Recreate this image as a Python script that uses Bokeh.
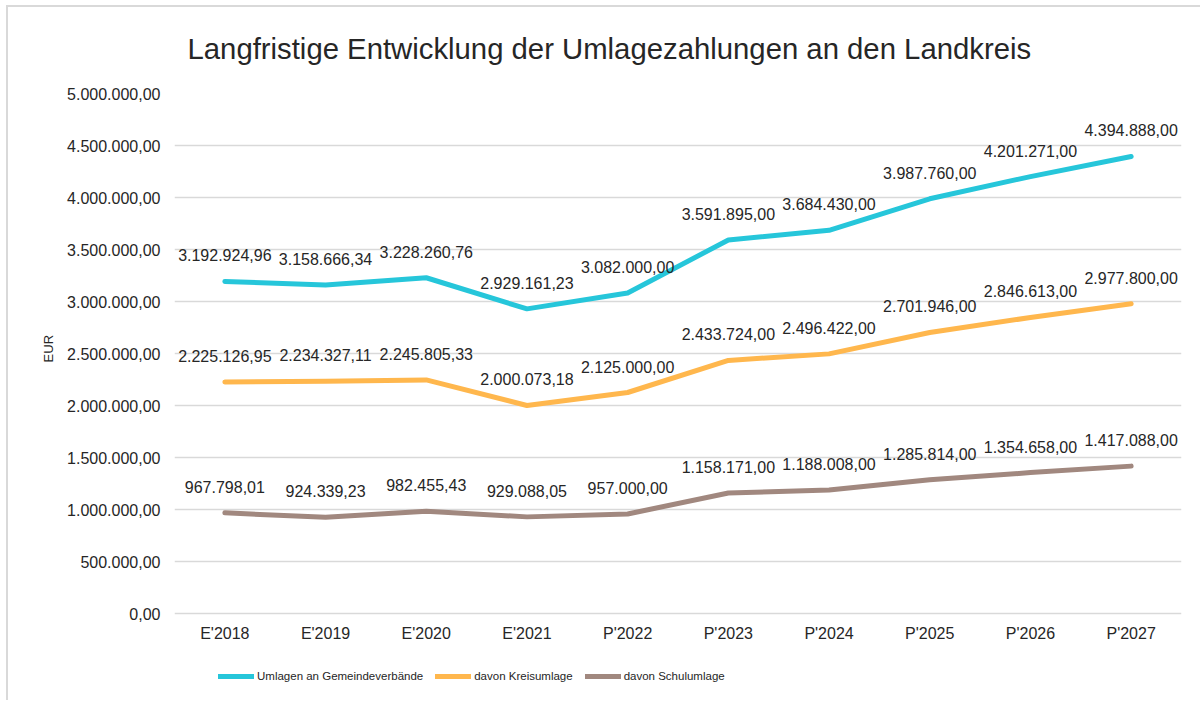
from bokeh.plotting import figure
from bokeh.models import ColumnDataSource, LabelSet, Legend, LegendItem, FactorRange, CustomJSTickFormatter
from bokeh.embed import file_html
from bokeh.resources import INLINE
from bokeh.core.properties import value

categories = ["E'2018", "E'2019", "E'2020", "E'2021", "P'2022", "P'2023", "P'2024", "P'2025", "P'2026", "P'2027"]
umlagen = [3192924.96, 3158666.34, 3228260.76, 2929161.23, 3082000.00, 3591895.00, 3684430.00, 3987760.00, 4201271.00, 4394888.00]
kreisumlage = [2225126.95, 2234327.11, 2245805.33, 2000073.18, 2125000.00, 2433724.00, 2496422.00, 2701946.00, 2846613.00, 2977800.00]
schulumlage = [967798.01, 924339.23, 982455.43, 929088.05, 957000.00, 1158171.00, 1188008.00, 1285814.00, 1354658.00, 1417088.00]
series_names = ["Umlagen an Gemeindeverbände", "davon Kreisumlage", "davon Schulumlage"]
colors = ["#26C6DA", "#FFB74D", "#A1887F"]
y_ticks = [0, 500000, 1000000, 1500000, 2000000, 2500000, 3000000, 3500000, 4000000, 4500000, 5000000]

def de(v):
    s = f"{v:,.2f}"
    return s.replace(",", "X").replace(".", ",").replace("X", ".")

FONT = "Liberation Sans"
TXT = "#262626"

# layout (pixels): value axis spans 520 px for 0..5M; frame extended below 0 to host axis labels and legend
W, H = 1200, 700
TOP, AXIS_PX, BELOW_PX = 93, 520, 77
BOTTOM = H - TOP - AXIS_PX - BELOW_PX
y_min = -BELOW_PX / AXIS_PX * y_ticks[-1]

p = figure(width=W, height=H, x_range=FactorRange(factors=categories, range_padding=0),
           y_range=(y_min, y_ticks[-1]), output_backend="svg", toolbar_location=None,
           min_border_left=174, min_border_right=W - 1181, min_border_top=TOP, min_border_bottom=BOTTOM)
p.styles = {
    "background-image": "linear-gradient(#d9d9d9, #d9d9d9), linear-gradient(#d9d9d9, #d9d9d9)",
    "background-size": "2px 100%, 100% 2px",
    "background-position": "6px 6px, 6px 5px",
    "background-repeat": "no-repeat",
}
p.outline_line_color = None
p.background_fill_color = "white"
p.border_fill_alpha = 0

p.title.text = "Langfristige Entwicklung der Umlagezahlungen an den Landkreis"
p.title.align = "left"
p.title.offset = 13
p.title.text_font = FONT
p.title.text_font_size = "29.3px"
p.title.text_font_style = "normal"
p.title.text_color = TXT
p.title.standoff = 58

p.xaxis.visible = False
p.xgrid.grid_line_color = None
p.ygrid.grid_line_color = "#D9D9D9"
p.ygrid.grid_line_width = 1.3
p.ygrid.ticker = y_ticks
p.yaxis.ticker = y_ticks
p.yaxis.formatter = CustomJSTickFormatter(code="""
const s = tick.toFixed(2).split('.');
return s[0].replace(/\\B(?=(\\d{3})+(?!\\d))/g, '.') + ',' + s[1];
""")
ax = p.yaxis
ax.axis_line_color = None
ax.major_tick_line_color = None
ax.minor_tick_line_color = None
ax.major_tick_out = 0
ax.major_tick_in = 0
ax.major_label_text_font = FONT
ax.major_label_text_font_size = "16px"
ax.major_label_text_color = TXT
ax.major_label_standoff = 14
# leading no-break spaces lift the rotated label to the centre of the 0..5M band
ax.axis_label = "\u00a0" * 24 + "EUR"
ax.axis_label_text_font = FONT
ax.axis_label_text_font_size = "13px"
ax.axis_label_text_font_style = "normal"
ax.axis_label_text_color = TXT
ax.axis_label_standoff = 8

# category labels under the value axis
cat_src = ColumnDataSource(dict(x=categories, y=[0] * len(categories)))
p.add_layout(LabelSet(x="x", y="y", text="x", source=cat_src, y_offset=-19.5, text_align="center",
                      text_baseline="middle", text_font=value(FONT), text_font_size="16px",
                      text_color=TXT))

items = []
for name, vals, col in zip(series_names, [umlagen, kreisumlage, schulumlage], colors):
    src = ColumnDataSource(dict(x=categories, y=vals, t=[de(v) for v in vals]))
    r = p.line("x", "y", source=src, line_color=col, line_width=5, line_join="round", line_cap="round")
    items.append(LegendItem(label=name, renderers=[r]))
    p.add_layout(LabelSet(x="x", y="y", text="t", source=src, y_offset=26, text_align="center",
                          text_baseline="middle", text_font=value(FONT), text_font_size="16px",
                          text_color=TXT))

legend = Legend(items=items, orientation="horizontal", location=(44, 6), padding=0, margin=0,
                spacing=12, glyph_width=36, glyph_height=16, label_height=16, label_standoff=3,
                border_line_color=None, background_fill_alpha=0,
                label_text_font=FONT, label_text_font_size="11.5px",
                label_text_color=TXT)
p.add_layout(legend, "center")

open("out.html", "w").write(file_html(p, INLINE))
